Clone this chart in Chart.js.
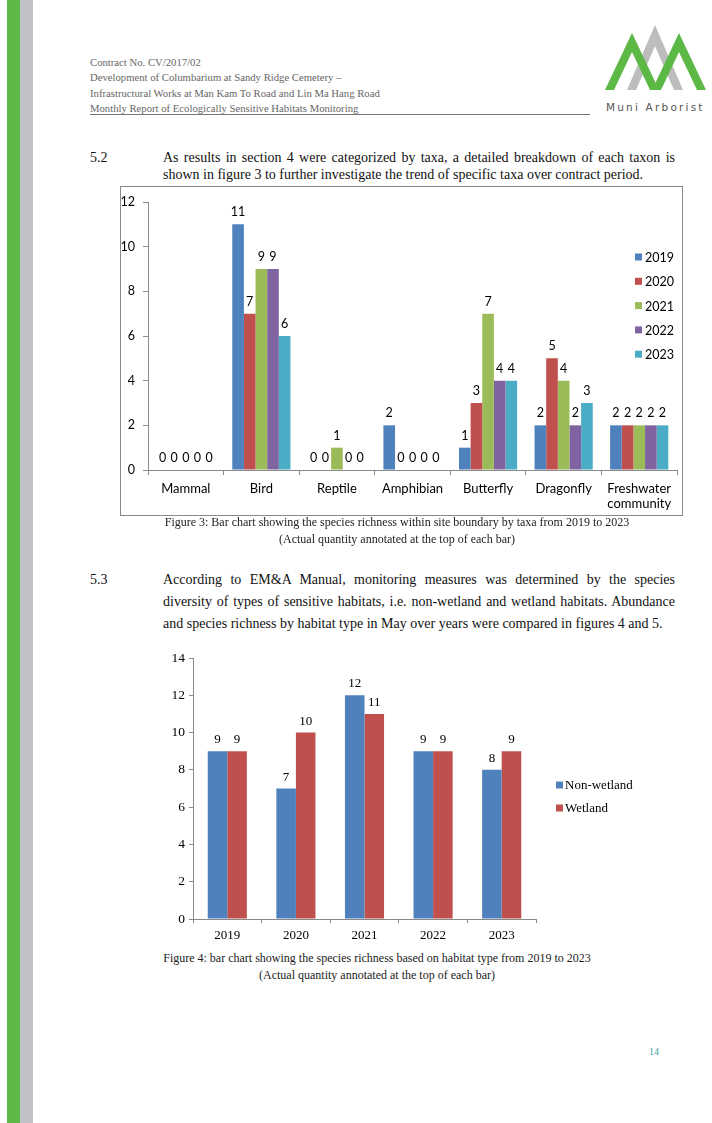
<!DOCTYPE html>
<html>
<head>
<meta charset="utf-8">
<script src="https://cdn.jsdelivr.net/npm/chart.js@4.4.1/dist/chart.umd.min.js"></script>
<style>
  body { margin: 0; background: #fff; }
  #page { position: relative; width: 712px; height: 1123px; overflow: hidden; background: #fff;
          font-family: "Liberation Serif", serif; color: #111; }
  .abs { position: absolute; }
  .hdr { position: absolute; left: 90px; font-family: "Liberation Serif", serif; font-size: 10.7px; color: #666; line-height: 15.4px; white-space: nowrap; }
  .num { position: absolute; left: 90px; font-family: "Liberation Serif", serif; font-size: 14px; }
  .para { position: absolute; left: 163px; width: 512px; font-family: "Liberation Serif", serif; font-size: 14px; text-align: justify; }
  .cap { position: absolute; font-family: "Liberation Serif", serif; font-size: 12px; text-align: center; color: #222; line-height: 17px; white-space: nowrap; }
</style>
</head>
<body>
<div id="page">
  <!-- side stripes -->
  <div class="abs" style="left:7px;top:0;width:13px;height:1123px;background:#5cb946"></div>
  <div class="abs" style="left:20px;top:0;width:13px;height:1123px;background:#c2c2c6"></div>
  <svg class="abs" style="left:0;top:0" width="712" height="130">
    <polygon points="0,166 7,170 35,188 7,206 0,210" fill="#fff"/>
    <polygon points="627,90 655,25 683,90 674,90 655,46 636,90" fill="#bdbdbd"/>
    <polygon points="605,90 632,33 659,90 650,90 632,52 614,90" fill="#5cb946"/>
    <polygon points="652,90 679,33 706,90 697,90 679,52 661,90" fill="#5cb946"/>
  </svg>

  <div class="hdr" style="top:55px">Contract No. CV/2017/02<br>Development of Columbarium at Sandy Ridge Cemetery –<br>Infrastructural Works at Man Kam To Road and Lin Ma Hang Road<br>Monthly Report of Ecologically Sensitive Habitats Monitoring</div>
  <div class="abs" style="left:90px;top:114px;width:500px;height:1px;background:#777"></div>
  <div class="abs" style="left:606px;top:101px;font-family:'DejaVu Sans',sans-serif;font-size:10.5px;letter-spacing:2.2px;color:#555;white-space:nowrap">Muni Arborist</div>

  <div class="num" style="top:149px;line-height:17px">5.2</div>
  <div class="para" style="top:149px;line-height:17px">As results in section 4 were categorized by taxa, a detailed breakdown of each taxon is shown in figure 3 to further investigate the trend of specific taxa over contract period.</div>

  <div class="abs" style="left:120px;top:186px;width:561px;height:328px;border:1px solid #8a8a8a"></div>
  <canvas id="taxaChart" class="abs" style="left:121px;top:187px" width="561" height="328"></canvas>

  <div class="cap" style="left:100px;width:594px;top:514px">Figure 3: Bar chart showing the species richness within site boundary by taxa from 2019 to 2023<br>(Actual quantity annotated at the top of each bar)</div>

  <div class="num" style="top:569px;line-height:22px">5.3</div>
  <div class="para" style="top:569px;line-height:22px">According to EM&amp;A Manual, monitoring measures was determined by the species diversity of types of sensitive habitats, i.e. non-wetland and wetland habitats. Abundance and species richness by habitat type in May over years were compared in figures 4 and 5.</div>

  <canvas id="habitatChart" class="abs" style="left:150px;top:640px" width="545" height="310"></canvas>

  <div class="cap" style="left:80px;width:594px;top:950px">Figure 4: bar chart showing the species richness based on habitat type from 2019 to 2023<br>(Actual quantity annotated at the top of each bar)</div>

  <div class="abs" style="left:649px;top:1046px;font-family:'Liberation Serif',serif;font-size:10px;color:#3a9fa8">14</div>
</div>

<script>
// figure 3 – species richness by taxa
const taxa = ["Mammal", "Bird", "Reptile", "Amphibian", "Butterfly", "Dragonfly", ["Freshwater", "community"]];
const taxaYears = ["2019", "2020", "2021", "2022", "2023"];
const taxa2019 = [0, 11, 0, 2, 1, 2, 2];
const taxa2020 = [0, 7, 0, 0, 3, 5, 2];
const taxa2021 = [0, 9, 1, 0, 7, 4, 2];
const taxa2022 = [0, 9, 0, 0, 4, 2, 2];
const taxa2023 = [0, 6, 0, 0, 4, 3, 2];
const taxaColors = ["#4f81bd", "#c0504d", "#9bbb59", "#8064a2", "#4bacc6"];

// figure 4 – species richness by habitat type
const habitatYears = ["2019", "2020", "2021", "2022", "2023"];
const habitatLabels = ["Non-wetland", "Wetland"];
const nonWetland = [9, 7, 12, 9, 8];
const wetland = [9, 10, 11, 9, 9];
const habitatColors = ["#4f81bd", "#c0504d"];

// value on top of each bar
const valueLabels = {
  id: "valueLabels",
  afterDatasetsDraw(chart, args, opts) {
    const ctx = chart.ctx;
    ctx.save();
    ctx.font = opts.font;
    ctx.fillStyle = "#000";
    ctx.textAlign = "center";
    ctx.textBaseline = "alphabetic";
    chart.data.datasets.forEach((ds, i) => {
      chart.getDatasetMeta(i).data.forEach((bar, j) => {
        ctx.fillText(String(ds.data[j]), bar.x, bar.y - opts.gap);
      });
    });
    ctx.restore();
  }
};

// legend drawn in a column over the right of the chart
const sideLegend = {
  id: "sideLegend",
  afterDraw(chart, args, opts) {
    const ctx = chart.ctx;
    ctx.save();
    ctx.font = opts.font;
    ctx.textBaseline = "middle";
    ctx.textAlign = "left";
    chart.data.datasets.forEach((ds, i) => {
      const y = opts.y + i * opts.step;
      ctx.fillStyle = ds.backgroundColor;
      ctx.fillRect(opts.x, y - opts.box / 2, opts.box, opts.box);
      ctx.fillStyle = "#000";
      ctx.fillText(ds.label, opts.x + opts.box + opts.gap, y + 1);
    });
    ctx.restore();
  }
};

function fixWidth(w) {
  return scale => {
    scale.width = w;
    scale.paddingTop = scale.paddingBottom = scale.paddingLeft = scale.paddingRight = 0;
  };
}
function fixHeight(h) {
  return scale => {
    scale.height = h;
    scale.paddingTop = scale.paddingBottom = scale.paddingLeft = scale.paddingRight = 0;
  };
}

const taxaSeries = [taxa2019, taxa2020, taxa2021, taxa2022, taxa2023];
const sans = "Lato, 'Open Sans', sans-serif";

new Chart(document.getElementById("taxaChart"), {
  type: "bar",
  data: {
    labels: taxa,
    datasets: taxaSeries.map((d, i) => ({
      label: taxaYears[i],
      data: d,
      backgroundColor: taxaColors[i],
      categoryPercentage: 0.77,
      barPercentage: 1.0
    }))
  },
  options: {
    responsive: false,
    animation: false,
    layout: { padding: { top: 15, right: 5, left: 0, bottom: 0 } },
    plugins: {
      legend: { display: false },
      tooltip: { enabled: false },
      valueLabels: { font: "12.5px " + sans, gap: 8 },
      sideLegend: { font: "12.5px " + sans, x: 514, y: 70, step: 24.3, box: 7, gap: 3 }
    },
    scales: {
      x: {
        afterFit: fixHeight(45),
        border: { color: "#8a8a8a" },
        grid: { drawOnChartArea: false, color: "#8a8a8a", tickLength: 5 },
        ticks: { color: "#000", font: { family: sans, size: 13, lineHeight: 1.15 }, padding: 6, maxRotation: 0, autoSkip: false }
      },
      y: {
        min: 0, max: 12,
        afterFit: fixWidth(27),
        border: { color: "#8a8a8a" },
        grid: { drawOnChartArea: false, color: "#8a8a8a", tickLength: 5 },
        ticks: { stepSize: 2, color: "#000", font: { family: sans, size: 12.5 }, padding: 8 }
      }
    }
  },
  plugins: [valueLabels, sideLegend]
});

const serif = "'Liberation Serif', serif";

new Chart(document.getElementById("habitatChart"), {
  type: "bar",
  data: {
    labels: habitatYears,
    datasets: [nonWetland, wetland].map((d, i) => ({
      label: habitatLabels[i],
      data: d,
      backgroundColor: habitatColors[i],
      categoryPercentage: 0.57,
      barPercentage: 1.0
    }))
  },
  options: {
    responsive: false,
    animation: false,
    layout: { padding: { top: 18, right: 159, left: 0, bottom: 0 } },
    plugins: {
      legend: { display: false },
      tooltip: { enabled: false },
      valueLabels: { font: "13px " + serif, gap: 8 },
      sideLegend: { font: "13px " + serif, x: 406, y: 145, step: 23, box: 7, gap: 2 }
    },
    scales: {
      x: {
        afterFit: fixHeight(31),
        border: { color: "#8a8a8a" },
        grid: { drawOnChartArea: false, color: "#8a8a8a", tickLength: 4 },
        ticks: { color: "#000", font: { family: serif, size: 13 }, padding: 5, maxRotation: 0 }
      },
      y: {
        min: 0, max: 14,
        afterFit: fixWidth(43),
        border: { color: "#8a8a8a" },
        grid: { drawOnChartArea: false, color: "#8a8a8a", tickLength: 4 },
        ticks: { stepSize: 2, color: "#000", font: { family: serif, size: 13.5 }, padding: 4 }
      }
    }
  },
  plugins: [valueLabels, sideLegend]
});
</script>
</body>
</html>
